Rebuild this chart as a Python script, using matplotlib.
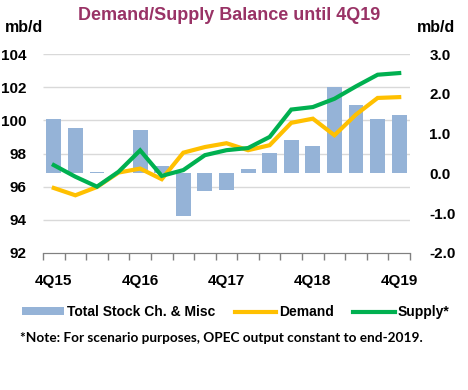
import matplotlib
matplotlib.use("Agg")
import matplotlib.pyplot as plt
from matplotlib.patches import Patch
from matplotlib.lines import Line2D
import numpy as np

# quarters 4Q15 .. 4Q19
quarters = ['4Q15', '1Q16', '2Q16', '3Q16', '4Q16', '1Q17', '2Q17', '3Q17', '4Q17',
            '1Q18', '2Q18', '3Q18', '4Q18', '1Q19', '2Q19', '3Q19', '4Q19']
stock_ch = [1.36, 1.13, 0.03, 0.0, 1.08, 0.18, -1.07, -0.44, -0.42,
            0.12, 0.52, 0.85, 0.69, 2.17, 1.72, 1.36, 1.46]
demand = [95.92, 95.48, 95.98, 96.85, 97.09, 96.45, 98.05, 98.39, 98.62,
          98.2, 98.5, 99.85, 100.1, 99.1, 100.35, 101.35, 101.4]
supply = [97.3, 96.6, 96.0, 96.9, 98.19, 96.65, 97.0, 97.9, 98.2,
          98.33, 99.0, 100.65, 100.8, 101.3, 102.05, 102.75, 102.85]
shown_labels = ['4Q15', '4Q16', '4Q17', '4Q18', '4Q19']

BAR_C = '#95B3D7'
DEM_C = '#FFC000'
SUP_C = '#00B050'
TITLE_C = '#993366'
FONT = 'Liberation Sans'

plt.rcParams['font.family'] = [FONT, 'DejaVu Sans']
plt.rcParams['font.weight'] = 'bold'

fig = plt.figure(figsize=(4.68, 3.9), dpi=100)
ax = fig.add_axes([43/468, 1-253/390, 367/468, 199/390])
ax2 = ax.twinx()
ax.set_zorder(ax2.get_zorder() + 1)
ax.patch.set_visible(False)

x = np.arange(len(quarters))

# bars on right axis
ax2.bar(x, stock_ch, width=0.69, color=BAR_C, zorder=2)
ax2.set_ylim(-2, 3)
ax2.set_yticks(np.arange(-2, 3.5, 1))
ax2.set_yticklabels(['%.1f' % v for v in np.arange(-2, 3.5, 1)])

# left-axis gridlines drawn behind bars
left_ticks = np.arange(92, 105, 2)
ax2.hlines(left_ticks[1:], 0, 1, transform=ax.get_yaxis_transform(),
           color='#d9d9d9', lw=1, zorder=1)

# lines on left axis
ax.plot(x, demand, color=DEM_C, lw=3, solid_joinstyle='miter', zorder=3)
ax.plot(x, supply, color=SUP_C, lw=3, solid_joinstyle='miter', zorder=4)
ax.set_ylim(92, 104)
ax.set_yticks(left_ticks)
ax.set_xlim(-0.5, len(quarters) - 0.5)

ax.set_xticks([quarters.index(q) for q in shown_labels])
ax.set_xticklabels(shown_labels)
ax.set_xticks(np.arange(-0.5, len(quarters), 1), minor=True)
ax.tick_params(axis='x', which='major', length=0, pad=15, labelsize=11)
ax.tick_params(axis='x', which='minor', length=5, color='#808080', width=1)
ax.tick_params(axis='y', length=0, pad=12, labelsize=11)
ax2.tick_params(axis='y', length=0, pad=14, labelsize=11)

for a in (ax, ax2):
    for side in ('left', 'right', 'top'):
        a.spines[side].set_visible(False)
    a.spines['bottom'].set_color('#808080')

fig.text(229/468, 1-15/390, 'Demand/Supply Balance until 4Q19', color=TITLE_C,
         fontsize=13, fontweight='bold', ha='center', va='center')
fig.text(5/468, 1-27/390, 'mb/d', fontsize=11.5, fontweight='bold', ha='left', va='center')
fig.text(455/468, 1-27/390, 'mb/d', fontsize=11.5, fontweight='bold', ha='right', va='center')

handles = [Patch(facecolor=BAR_C), Line2D([], [], color=DEM_C, lw=3),
           Line2D([], [], color=SUP_C, lw=3)]
labels = ['Total Stock Ch. & Misc', 'Demand', 'Supply*']
leg = fig.legend(handles, labels, loc='center', bbox_to_anchor=(236/468, 1-312/390),
                 ncol=3, frameon=False, prop={'size': 10, 'weight': 'bold'},
                 handlelength=3.0, handleheight=0.5, handletextpad=0.2,
                 columnspacing=1.4)

fig.text(20/468, 1-338/390,
         '*Note: For scenario purposes, OPEC output constant to end-2019.',
         family=['Lato', 'DejaVu Sans'], fontsize=9.8, fontweight='bold',
         ha='left', va='center')

fig.savefig('out.png', dpi=100)
